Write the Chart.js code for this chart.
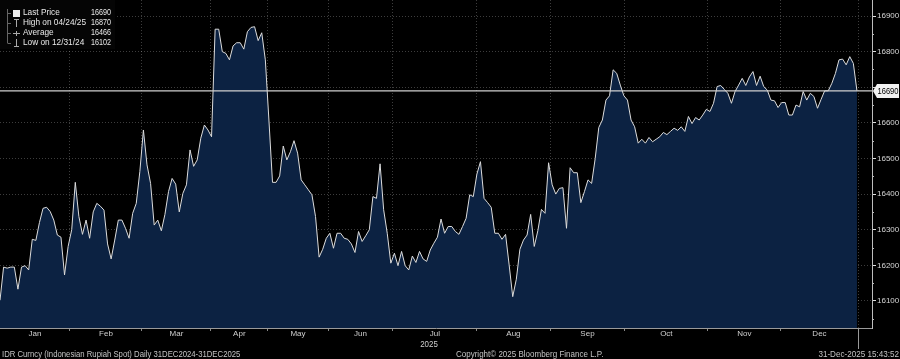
<!DOCTYPE html>
<html><head><meta charset="utf-8">
<script src="https://cdn.jsdelivr.net/npm/chart.js@4.4.1/dist/chart.umd.min.js"></script>
<style>html,body{margin:0;padding:0;background:#000;overflow:hidden}</style>
</head><body>
<canvas id="c" width="900" height="359" style="display:block;width:900px;height:359px"></canvas>
<script>
// IDR spot, daily trading days 31 Dec 2024 .. 31 Dec 2025
const spotQ1 = [16102,16195,16192,16195,16195,16133,16195,16199,16187,16273,16270,16320,16360,16363,16351,16327,16285,16279,16173,16253,
  16300,16433,16337,16287,16327,16276,16350,16374,16366,16355,16260,16218,16271,16327,16327,16304,16276,16346,16374,16463,
  16580,16482,16430,16313,16327,16297,16343,16407,16444,16428,16350,16402,16426,16524,16478,16496,16557,16594,16580,16561];
const spotQ2 = [16863,16863,16800,16795,16777,16816,16825,16825,16807,16856,16868,16870,16831,16853,16777,16608,16433,16433,16451,16535,
  16496,16519,16550,16515,16440,16426,16412,16398,16337,16223,16245,16276,16290,16248,16290,16290,16276,16273,16260,16236,
  16295,16267,16283,16300,16393,16388,16485,16356,16290,16206,16234,16199,16239,16199,16187,16226,16208,16239];
const spotQ3 = [16218,16211,16243,16262,16279,16330,16290,16309,16309,16295,16287,16309,16332,16398,16393,16456,16491,16388,16376,16363,
  16290,16290,16273,16287,16201,16112,16161,16245,16271,16285,16343,16253,16297,16357,16346,16488,16426,16400,16416,16418,
  16304,16474,16460,16460,16376,16407,16440,16430,16500,16587,16608,16664,16676,16749,16739];
const spotQ4 = [16706,16676,16664,16608,16589,16543,16554,16543,16559,16547,16554,16561,16573,16567,16576,16585,16579,16589,16576,16618,
  16598,16615,16608,16622,16638,16632,16655,16702,16705,16694,16683,16655,16688,16706,16725,16705,16729,16744,16705,16731,
  16702,16692,16664,16662,16643,16657,16657,16622,16622,16650,16645,16688,16664,16683,16674,16641,16666,16690,16690,16711,
  16739,16777,16779,16763,16786,16767,16690];
const spot = [].concat(spotQ1, spotQ2, spotQ3, spotQ4);

const monthLabels = ['Jan','Feb','Mar','Apr','May','Jun','Jul','Aug','Sep','Oct','Nov','Dec'];
// month boundaries in trading-day index units
const monthBounds = [0, 19.5, 39.6, 58.8, 74.7, 91.5, 109.6, 133.0, 153.4, 174.3, 197.4, 217.8, 239.3];
const yTicks = [16100,16200,16300,16400,16500,16600,16700,16800,16900];
const yMinorTicks = [16050,16150,16250,16350,16450,16550,16650,16750,16850];
const lastPrice = 16690;
const legendNames = ['Last Price','High on 04/24/25','Average','Low on 12/31/24'];
const legendValues = ['16690','16870','16466','16102'];
const yearLabel = '2025';
const footerLeft = 'IDR Curncy (Indonesian Rupiah Spot) Daily 31DEC2024-31DEC2025';
const footerMid = 'Copyright\u00A9 2025 Bloomberg Finance L.P.';
const footerRight = '31-Dec-2025 15:43:52';

const X_MAX = 243.2;
const FONT = "'Liberation Sans',Arial,sans-serif";
const mids = monthBounds.slice(0, -1).map((b, i) => (b + monthBounds[i + 1]) / 2);

function cText(ctx, text, x, y, align, sx) {
  ctx.save();
  ctx.translate(x, y); ctx.scale(sx, 1);
  ctx.textAlign = align; ctx.fillText(text, 0, 0);
  ctx.restore();
}
function noPad(s) { s.paddingTop = 0; s.paddingBottom = 0; s.paddingLeft = 0; s.paddingRight = 0; }

const extras = {
  id: 'extras',
  afterDraw(chart) {
    const ctx = chart.ctx, xs = chart.scales.x, ys = chart.scales.y, ca = chart.chartArea;
    ctx.save();
    // minor ticks on y axis
    ctx.strokeStyle = '#bbb'; ctx.lineWidth = 1;
    yMinorTicks.forEach(v => {
      const y = Math.round(ys.getPixelForValue(v)) + 0.5;
      ctx.beginPath(); ctx.moveTo(ca.right, y); ctx.lineTo(ca.right + 2, y); ctx.stroke();
    });
    // year boundary tick
    ctx.strokeStyle = '#999';
    const xe = Math.round(xs.getPixelForValue(monthBounds[monthBounds.length - 1])) + 0.5;
    ctx.beginPath(); ctx.moveTo(xe, ca.bottom); ctx.lineTo(xe, ca.bottom + 21); ctx.stroke();
    // last price label
    const ly = Math.round(ys.getPixelForValue(lastPrice));
    const lx = ca.right + 1;
    ctx.fillStyle = '#f2f2f2';
    ctx.beginPath();
    ctx.moveTo(lx, ly); ctx.lineTo(lx + 4, ly - 7); ctx.lineTo(899, ly - 7);
    ctx.lineTo(899, ly + 7); ctx.lineTo(lx + 4, ly + 7); ctx.closePath(); ctx.fill();
    ctx.fillStyle = '#000'; ctx.font = '9px ' + FONT; ctx.textBaseline = 'middle';
    cText(ctx, String(lastPrice), lx + 4.5, ly + 0.5, 'left', 0.84);
    // year label
    ctx.fillStyle = '#cfcfcf';
    cText(ctx, yearLabel, xs.getPixelForValue((monthBounds[0] + monthBounds[monthBounds.length - 1]) / 2), 344.5, 'center', 0.88);
    // footer
    ctx.fillStyle = '#c4c4c4';
    cText(ctx, footerLeft, 2, 354.5, 'left', 0.86);
    cText(ctx, footerMid, 456, 354.5, 'left', 0.89);
    cText(ctx, footerRight, 899, 354.5, 'right', 0.9);
    // legend box
    ctx.fillStyle = '#050505';
    ctx.fillRect(0, 0, 115, 49);
    ctx.strokeStyle = '#666'; ctx.lineWidth = 1;
    ctx.beginPath(); ctx.moveTo(7.5, 9); ctx.lineTo(7.5, 43); ctx.stroke();
    ctx.font = '9px ' + FONT; ctx.textBaseline = 'middle';
    legendNames.forEach((n, i) => {
      const y = 12.5 + i * 10;
      ctx.strokeStyle = '#666';
      ctx.beginPath(); ctx.moveTo(7.5, Math.round(y) + 0.5); ctx.lineTo(11, Math.round(y) + 0.5); ctx.stroke();
      if (i === 0) { ctx.fillStyle = '#eee'; ctx.fillRect(13, Math.round(y) - 3, 7, 7); }
      else {
        ctx.strokeStyle = '#aaa';
        const yy = Math.round(y);
        ctx.beginPath();
        if (i === 1) { ctx.moveTo(16.5, yy - 3); ctx.lineTo(16.5, yy + 4); ctx.moveTo(14, yy - 3.5); ctx.lineTo(19, yy - 3.5); }
        if (i === 2) { ctx.moveTo(13, yy + 0.5); ctx.lineTo(20, yy + 0.5); ctx.moveTo(16.5, yy - 2); ctx.lineTo(16.5, yy + 3); }
        if (i === 3) { ctx.moveTo(16.5, yy - 4); ctx.lineTo(16.5, yy + 3); ctx.moveTo(14, yy + 3.5); ctx.lineTo(19, yy + 3.5); }
        ctx.stroke();
      }
      ctx.fillStyle = '#e8e8e8';
      cText(ctx, n, 23, y, 'left', 0.92);
      cText(ctx, legendValues[i], 111, y, 'right', 0.8);
    });
    ctx.restore();
  }
};

new Chart(document.getElementById('c').getContext('2d'), {
  type: 'line',
  data: {
    datasets: [
      { data: spot.map((v, i) => ({ x: i, y: v })), borderColor: '#dcdcdc', borderWidth: 1,
        backgroundColor: '#0c2242', fill: 'start', pointRadius: 0, tension: 0, order: 2 },
      { data: [{ x: 0, y: lastPrice }, { x: X_MAX, y: lastPrice }], borderColor: '#cfcfcf', borderWidth: 1.3,
        pointRadius: 0, fill: false, order: 1 }
    ]
  },
  options: {
    responsive: false, animation: false, devicePixelRatio: 1,
    layout: { padding: 0 },
    plugins: { legend: { display: false }, tooltip: { enabled: false } },
    scales: {
      x: {
        type: 'linear', min: 0, max: X_MAX, position: 'bottom', weight: 0,
        afterBuildTicks: s => { s.ticks = monthBounds.slice(1).map(v => ({ value: v })); },
        ticks: { display: false },
        grid: { color: 'rgba(190,190,190,0.32)', lineWidth: 1, drawTicks: true, tickLength: 3, tickColor: '#888' },
        border: { display: true, color: '#9a9a9a', width: 1, dash: [1, 2] },
        afterFit: s => { s.height = 3; noPad(s); }
      },
      xm: {
        type: 'linear', min: 0, max: X_MAX, position: 'bottom', weight: 1,
        afterBuildTicks: s => { s.ticks = mids.map(v => ({ value: v })); },
        ticks: { callback: (v, i) => monthLabels[i], color: '#cfcfcf', font: { family: FONT, size: 8 },
          padding: -2, maxRotation: 0, autoSkip: false },
        grid: { display: false, drawTicks: false },
        border: { display: false },
        afterFit: s => { s.height = 28; noPad(s); }
      },
      y: {
        position: 'right', min: 16024, max: 16945,
        afterBuildTicks: s => { s.ticks = yTicks.map(v => ({ value: v })); },
        ticks: { callback: v => String(v), color: '#d6d6d6', font: { family: FONT, size: 8 }, padding: 1 },
        grid: { color: 'rgba(190,190,190,0.32)', lineWidth: 1, drawTicks: true, tickLength: 4, tickColor: '#ddd' },
        border: { display: true, color: '#bdbdbd', width: 1, dash: [1, 2] },
        afterFit: s => { s.width = 28; noPad(s); }
      }
    }
  },
  plugins: [extras]
});
</script>
</body></html>
